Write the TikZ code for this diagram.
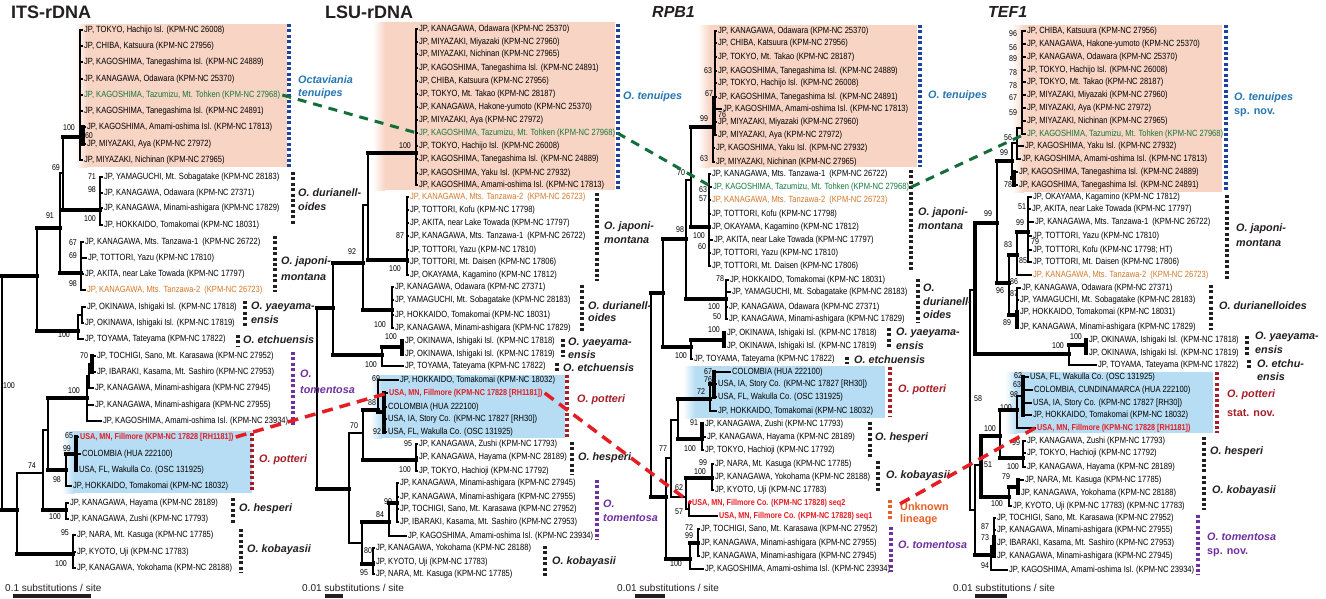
\documentclass[tikz,border=0pt]{standalone}
\usepackage{fontspec}
\setmainfont{Liberation Sans}
\newfontfamily\nf[FakeStretch=0.84]{Liberation Sans}
\definecolor{pinkbg}{RGB}{248,212,196}
\definecolor{bluebg}{RGB}{182,221,243}
\definecolor{tenblue}{RGB}{38,118,178}
\definecolor{barblue}{RGB}{28,68,158}
\definecolor{potred}{RGB}{165,30,40}
\definecolor{tompur}{RGB}{112,48,160}
\definecolor{unkor}{RGB}{232,96,40}
\definecolor{tanor}{RGB}{212,120,40}
\definecolor{grn}{RGB}{20,120,60}
\definecolor{dgrn}{RGB}{20,110,60}
\definecolor{redl}{RGB}{228,30,36}
\definecolor{blk}{RGB}{35,31,32}
\tikzset{
 lf/.style={anchor=west,inner sep=0pt,font=\nf\fontsize{9}{10}\selectfont},
 rl/.style={text=redl,font=\nf\bfseries\fontsize{8.6}{10}\selectfont},
 svs/.style={inner sep=0pt,font=\nf\fontsize{8.4}{9}\selectfont},
 cls/.style={anchor=west,inner sep=0pt,font=\bfseries\itshape\fontsize{10.8}{12}\selectfont,text=blk},
 cl2/.style={anchor=west,inner sep=0pt,font=\bfseries\fontsize{10.8}{12}\selectfont},
 ttl/.style={anchor=west,inner sep=0pt,font=\bfseries\fontsize{18}{20}\selectfont,text=blk},
 ttli/.style={anchor=west,inner sep=0pt,font=\bfseries\itshape\fontsize{16}{18}\selectfont,text=blk},
 scl/.style={anchor=west,inner sep=0pt,font=\fontsize{10}{12}\selectfont,text=blk},
 tl/.style={line width=1.1pt,line cap=rect,draw=black},
 tk/.style={line width=4.5pt,line cap=rect,draw=black},
 db/.style={line width=4.5pt,dash pattern=on 3pt off 2.4pt},
 gd/.style={draw=dgrn,line width=3pt,dash pattern=on 9pt off 7pt},
 rd/.style={draw=redl,line width=3.5pt,dash pattern=on 11pt off 7pt}
}
\newcount\svc
\newcount\clc
\newcommand\leaf[6]{\node[lf,#6] (#1) at (#3,#4) {#5};\draw[tl,line cap=butt] (#2,#4) -- ([xshift=-0.6pt]#1.west);}
\newcommand\brV[3]{\draw[tl] (#1,#2) -- (#1,#3);}
\newcommand\brVK[3]{\draw[tk] (#1,#2) -- (#1,#3);}
\newcommand\brH[3]{\draw[tl] (#1,#3) -- (#2,#3);}
\newcommand\brHK[3]{\draw[tk] (#1,#3) -- (#2,#3);}
\newcommand\sv[3]{\global\advance\svc by 1 \node[svs] (s\the\svc) at (#1,#2) {#3};}
\newcommand\cl[4]{\global\advance\clc by 1 \node[cls,#1] (c\the\clc) at (#2,#3) {#4};}
\newcommand\dbar[4]{\draw[db,#1] (#2,#3) -- (#2,#4);}
\newcommand\pbox[5]{\shade[left color=white,right color=#1] (#2,#3) rectangle (#2+12,#5);\fill[#1] (#2+12,#3) rectangle (#4,#5);}
\begin{document}
\begin{tikzpicture}[x=1pt,y=-1pt]
\useasboundingbox[fill=white] (0,0) rectangle (1326,598);
% boxes
\pbox{pinkbg}{75}{24}{287}{167}
\pbox{pinkbg}{373}{22}{615}{190}
\pbox{pinkbg}{698}{25}{917}{167}
\pbox{pinkbg}{1012}{25}{1222}{192}
\pbox{bluebg}{62}{431}{252}{493}
\pbox{bluebg}{370}{375}{565}{438}
\pbox{bluebg}{683}{366}{885}{418}
\pbox{bluebg}{1005}{372}{1213}{433}
% titles
\node[ttl] (tA) at (11,12) {ITS-rDNA};
\node[ttl] (tB) at (325,12) {LSU-rDNA};
\node[ttli] (tC) at (652,12) {RPB1};
\node[ttli] (tD) at (988,12) {TEF1};
%================ ITS tree
\brV{80}{30}{160}\brVK{83}{127}{144}\brHK{63}{80}{137}
\brV{100}{177}{225}\brHK{63}{100}{210}
\brV{63}{137}{210}\brH{60}{63}{173}
\brV{81}{242}{290}\brHK{60}{81}{273}
\brV{60}{173}{273}\brHK{37}{60}{228}
\brV{82}{307}{323}\brH{78}{82}{315}\brV{78}{315}{339}\brHK{37}{78}{331}
\brV{37}{228}{331}\brHK{2}{37}{276}
\brV{2}{276}{510}\brHK{2}{17}{510}
\brV{17}{473}{554}\brH{17}{43}{473}\brHK{17}{73}{554}
\brV{73}{535}{568}
\brV{43}{430}{510}\brH{43}{48}{430}\brHK{43}{66}{510}
\brV{66}{503}{519}
\brV{48}{398}{470}\brHK{48}{87}{398}\brHK{48}{66}{470}
\brVK{92}{356}{372}\brV{89}{364}{388}\brH{89}{92}{364}\brV{87}{376}{421}\brH{87}{89}{376}
\brVK{76}{437}{470}\brHK{66}{76}{454}\brV{66}{454}{486}
\leaf{i1}{80}{84}{30}{JP, TOKYO, Hachijo Isl. (KPM-NC 26008)}{}
\leaf{i2}{80}{84}{46}{JP, CHIBA, Katsuura (KPM-NC 27956)}{}
\leaf{i3}{80}{84}{62}{JP, KAGOSHIMA, Tanegashima Isl. (KPM-NC 24889)}{}
\leaf{i4}{80}{84}{79}{JP, KANAGAWA, Odawara (KPM-NC 25370)}{}
\leaf{i5}{80}{84}{95}{JP, KAGOSHIMA, Tazumizu, Mt. Tohken (KPM-NC 27968)}{text=grn}
\leaf{i6}{80}{84}{111}{JP, KAGOSHIMA, Tanegashima Isl. (KPM-NC 24891)}{}
\leaf{i7}{83}{87}{127}{JP, KAGOSHIMA, Amami-oshima Isl. (KPM-NC 17813)}{}
\leaf{i8}{83}{87}{144}{JP, MIYAZAKI, Aya (KPM-NC 27972)}{}
\leaf{i9}{80}{84}{160}{JP, MIYAZAKI, Nichinan (KPM-NC 27965)}{}
\leaf{i10}{100}{104}{177}{JP, YAMAGUCHI, Mt. Sobagatake (KPM-NC 28183)}{}
\leaf{i11}{100}{104}{193}{JP, KANAGAWA, Odawara (KPM-NC 27371)}{}
\leaf{i12}{100}{104}{208}{JP, KANAGAWA, Minami-ashigara (KPM-NC 17829)}{}
\leaf{i13}{100}{104}{225}{JP, HOKKAIDO, Tomakomai (KPM-NC 18031)}{}
\leaf{i14}{81}{85}{242}{JP, KANAGAWA, Mts. Tanzawa-1~ (KPM-NC 26722)}{}
\leaf{i15}{81}{88}{258}{JP, TOTTORI, Yazu (KPM-NC 17810)}{}
\leaf{i16}{81}{85}{274}{JP, AKITA, near Lake Towada (KPM-NC 17797)}{}
\leaf{i17}{81}{87}{290}{JP, KANAGAWA, Mts. Tanzawa-2~ (KPM-NC 26723)}{text=tanor}
\leaf{i18}{82}{87}{307}{JP, OKINAWA, Ishigaki Isl. (KPM-NC 17818)}{}
\leaf{i19}{82}{85}{323}{JP, OKINAWA, Ishigaki Isl. (KPM-NC 17819)}{}
\leaf{i20}{78}{85}{339}{JP, TOYAMA, Tateyama (KPM-NC 17822)}{}
\leaf{i21}{92}{97}{356}{JP, TOCHIGI, Sano, Mt. Karasawa (KPM-NC 27952)}{}
\leaf{i22}{92}{97}{372}{JP, IBARAKI, Kasama, Mt. Sashiro (KPM-NC 27953)}{}
\leaf{i23}{89}{95}{388}{JP, KANAGAWA, Minami-ashigara (KPM-NC 27945)}{}
\leaf{i24}{87}{95}{405}{JP, KANAGAWA, Minami-ashigara (KPM-NC 27955)}{}
\leaf{i25}{87}{103}{421}{JP, KAGOSHIMA, Amami-oshima Isl. (KPM-NC 23934)}{}
\leaf{i26}{76}{80}{437}{USA, MN, Fillmore (KPM-NC 17828 [RH1181])}{rl}
\leaf{i27}{76}{82}{454}{COLOMBIA (HUA 222100)}{}
\leaf{i28}{76}{79}{470}{USA, FL, Wakulla Co. (OSC 131925)}{}
\leaf{i29}{66}{73}{486}{JP, HOKKAIDO, Tomakomai (KPM-NC 18032)}{}
\leaf{i30}{66}{70}{503}{JP, KANAGAWA, Hayama (KPM-NC 28189)}{}
\leaf{i31}{66}{70}{519}{JP, KANAGAWA, Zushi (KPM-NC 17793)}{}
\leaf{i32}{73}{77}{535}{JP, NARA, Mt. Kasuga (KPM-NC 17785)}{}
\leaf{i33}{73}{77}{552}{JP, KYOTO, Uji (KPM-NC 17783)}{}
\leaf{i34}{73}{77}{568}{JP, KANAGAWA, Yokohama (KPM-NC 28188)}{}
\sv{69}{128}{100}\sv{89}{136}{60}\sv{56}{168}{69}\sv{92}{177}{71}\sv{92}{190}{98}
\sv{50}{216}{91}\sv{90}{219}{100}\sv{73}{243}{67}\sv{73}{256}{69}\sv{73}{284}{98}
\sv{64}{335}{100}\sv{84}{356}{70}\sv{74}{391}{100}\sv{9}{386}{100}\sv{69}{436}{65}
\sv{67}{449}{99}\sv{32}{466}{74}\sv{57}{480}{98}\sv{55}{517}{100}\sv{65}{533}{95}\sv{61}{564}{100}
%================ LSU tree
\brV{416}{29}{185}\brHK{368}{416}{153}
\brV{407}{197}{275}\brHK{368}{407}{260}
\brV{368}{153}{260}\brH{363}{368}{205}
\brV{392}{287}{328}\brHK{363}{392}{310}
\brV{363}{205}{310}\brHK{333}{363}{263}
\brVK{402}{341}{354}\brHK{382}{402}{347}\brV{382}{347}{366}\brHK{333}{382}{355}
\brV{333}{263}{355}\brHK{317}{333}{308}
\brV{317}{308}{489}\brHK{317}{349}{489}
\brV{349}{433}{543}\brH{349}{363}{433}\brH{349}{362}{543}
\brV{363}{410}{460}\brHK{363}{378}{410}\brHK{363}{416}{460}
\brV{378}{380}{412}\brHK{378}{384}{412}\brVK{384}{393}{432}
\brV{416}{444}{471}
\brV{362}{522}{564}\brHK{362}{389}{522}\brHK{362}{373}{564}
\brV{397}{483}{522}\brHK{389}{397}{503}\brV{389}{503}{536}
\brV{373}{548}{574}
\leaf{l1}{416}{419}{29}{JP, KANAGAWA, Odawara (KPM-NC 25370)}{}
\leaf{l2}{416}{419}{42}{JP, MIYAZAKI, Miyazaki (KPM-NC 27960)}{}
\leaf{l3}{416}{419}{54}{JP, MIYAZAKI, Nichinan (KPM-NC 27965)}{}
\leaf{l4}{416}{419}{68}{JP, KAGOSHIMA, Tanegashima Isl. (KPM-NC 24891)}{}
\leaf{l5}{416}{419}{81}{JP, CHIBA, Katsuura (KPM-NC 27956)}{}
\leaf{l6}{416}{419}{94}{JP, TOKYO, Mt. Takao (KPM-NC 28187)}{}
\leaf{l7}{416}{419}{107}{JP, KANAGAWA, Hakone-yumoto (KPM-NC 25370)}{}
\leaf{l8}{416}{419}{120}{JP, MIYAZAKI, Aya (KPM-NC 27972)}{}
\leaf{l9}{416}{419}{133}{JP, KAGOSHIMA, Tazumizu, Mt. Tohken (KPM-NC 27968)}{text=grn}
\leaf{l10}{416}{419}{146}{JP, TOKYO, Hachijo Isl. (KPM-NC 26008)}{}
\leaf{l11}{416}{419}{159}{JP, KAGOSHIMA, Tanegashima Isl. (KPM-NC 24889)}{}
\leaf{l12}{416}{419}{173}{JP, KAGOSHIMA, Yaku Isl. (KPM-NC 27932)}{}
\leaf{l13}{416}{419}{185}{JP, KAGOSHIMA, Amami-oshima Isl. (KPM-NC 17813)}{}
\leaf{l14}{407}{410}{197}{JP, KANAGAWA, Mts. Tanzawa-2~ (KPM-NC 26723)}{text=tanor}
\leaf{l15}{407}{410}{210}{JP, TOTTORI, Kofu (KPM-NC 17798)}{}
\leaf{l16}{407}{410}{223}{JP, AKITA, near Lake Towada (KPM-NC 17797)}{}
\leaf{l17}{407}{410}{236}{JP, KANAGAWA, Mts. Tanzawa-1~ (KPM-NC 26722)}{}
\leaf{l18}{407}{410}{250}{JP, TOTTORI, Yazu (KPM-NC 17810)}{}
\leaf{l19}{407}{410}{262}{JP, TOTTORI, Mt. Daisen (KPM-NC 17806)}{}
\leaf{l20}{407}{410}{275}{JP, OKAYAMA, Kagamino (KPM-NC 17812)}{}
\leaf{l21}{392}{395}{287}{JP, KANAGAWA, Odawara (KPM-NC 27371)}{}
\leaf{l22}{392}{395}{300}{JP, YAMAGUCHI, Mt. Sobagatake (KPM-NC 28183)}{}
\leaf{l23}{392}{395}{315}{JP, HOKKAIDO, Tomakomai (KPM-NC 18031)}{}
\leaf{l24}{392}{395}{328}{JP, KANAGAWA, Minami-ashigara (KPM-NC 17829)}{}
\leaf{l25}{402}{405}{341}{JP, OKINAWA, Ishigaki Isl. (KPM-NC 17818)}{}
\leaf{l26}{402}{405}{354}{JP, OKINAWA, Ishigaki Isl. (KPM-NC 17819)}{}
\leaf{l27}{382}{405}{366}{JP, TOYAMA, Tateyama (KPM-NC 17822)}{}
\leaf{l28}{378}{400}{380}{JP, HOKKAIDO, Tomakomai (KPM-NC 18032)}{}
\leaf{l29}{384}{389}{393}{USA, MN, Fillmore (KPM-NC 17828 [RH1181])}{rl}
\leaf{l30}{384}{388}{407}{COLOMBIA (HUA 222100)}{}
\leaf{l31}{384}{388}{419}{USA, IA, Story Co. (KPM-NC 17827 [RH30])}{}
\leaf{l32}{384}{388}{432}{USA, FL, Wakulla Co. (OSC 131925)}{}
\leaf{l33}{416}{419}{444}{JP, KANAGAWA, Zushi (KPM-NC 17793)}{}
\leaf{l34}{416}{419}{457}{JP, KANAGAWA, Hayama (KPM-NC 28189)}{}
\leaf{l35}{416}{419}{471}{JP, TOKYO, Hachioji (KPM-NC 17792)}{}
\leaf{l36}{397}{400}{483}{JP, KANAGAWA, Minami-ashigara (KPM-NC 27945)}{}
\leaf{l37}{397}{400}{497}{JP, KANAGAWA, Minami-ashigara (KPM-NC 27955)}{}
\leaf{l38}{397}{400}{509}{JP, TOCHIGI, Sano, Mt. Karasawa (KPM-NC 27952)}{}
\leaf{l39}{397}{400}{522}{JP, IBARAKI, Kasama, Mt. Sashiro (KPM-NC 27953)}{}
\leaf{l40}{389}{408}{536}{JP, KAGOSHIMA, Amami-oshima Isl. (KPM-NC 23934)}{}
\leaf{l41}{373}{376}{548}{JP, KANAGAWA, Yokohama (KPM-NC 28188)}{}
\leaf{l42}{373}{376}{562}{JP, KYOTO, Uji (KPM-NC 17783)}{}
\leaf{l43}{373}{376}{574}{JP, NARA, Mt. Kasuga (KPM-NC 17785)}{}
\sv{405}{146}{100}\sv{400}{236}{87}\sv{395}{269}{100}\sv{352}{252}{92}\sv{380}{325}{100}
\sv{391}{337}{100}\sv{371}{365}{100}\sv{376}{379}{69}\sv{372}{403}{88}\sv{377}{432}{92}
\sv{354}{426}{70}\sv{408}{444}{95}\sv{405}{470}{100}\sv{388}{502}{99}\sv{380}{515}{84}
\sv{368}{551}{80}\sv{364}{573}{95}
%================ RPB1 tree
\brV{715}{31}{135}\brV{713}{97}{162}\brHK{691}{713}{127}
\brV{709}{174}{266}\brHK{691}{709}{227}
\brV{691}{127}{227}\brH{686}{691}{180}
\brV{726}{280}{319}\brHK{686}{726}{299}
\brV{686}{180}{299}\brHK{663}{686}{239}
\brVK{724}{333}{346}\brHK{691}{724}{340}\brV{691}{340}{359}\brHK{663}{691}{347}
\brV{663}{239}{347}\brHK{651}{663}{293}
\brV{651}{293}{497}\brHK{651}{666}{497}
\brV{666}{458}{559}\brH{666}{671}{458}\brHK{666}{690}{559}
\brV{671}{420}{497}\brH{671}{678}{420}\brH{671}{686}{497}
\brV{678}{399}{439}\brHK{678}{710}{399}\brHK{678}{702}{439}
\brV{710}{384}{411}\brHK{710}{714}{384}\brVK{714}{372}{397}
\brV{702}{424}{450}\brVK{702}{424}{437}
\brV{686}{478}{509}\brHK{686}{712}{478}\brH{686}{689}{509}
\brV{712}{464}{490}
\brV{689}{503}{516}
\brV{698}{529}{556}\brHK{690}{698}{543}\brV{690}{543}{569}
\leaf{r1}{715}{718}{31}{JP, KANAGAWA, Odawara (KPM-NC 25370)}{}
\leaf{r2}{715}{718}{43}{JP, CHIBA, Katsuura (KPM-NC 27956)}{}
\leaf{r3}{715}{718}{57}{JP, TOKYO, Mt. Takao (KPM-NC 28187)}{}
\leaf{r4}{715}{718}{71}{JP, KAGOSHIMA, Tanegashima Isl. (KPM-NC 24889)}{}
\leaf{r5}{715}{718}{83}{JP, TOKYO, Hachijo Isl. (KPM-NC 26008)}{}
\leaf{r6}{715}{718}{97}{JP, KAGOSHIMA, Tanegashima Isl. (KPM-NC 24891)}{}
\leaf{r7}{715}{723}{109}{JP, KAGOSHIMA, Amami-oshima Isl. (KPM-NC 17813)}{}
\leaf{r8}{715}{718}{122}{JP, MIYAZAKI, Miyazaki (KPM-NC 27960)}{}
\leaf{r9}{715}{718}{135}{JP, MIYAZAKI, Aya (KPM-NC 27972)}{}
\leaf{r10}{713}{716}{148}{JP, KAGOSHIMA, Yaku Isl. (KPM-NC 27932)}{}
\leaf{r11}{713}{716}{162}{JP, MIYAZAKI, Nichinan (KPM-NC 27965)}{}
\leaf{r12}{709}{712}{174}{JP, KANAGAWA, Mts. Tanzawa-1~ (KPM-NC 26722)}{}
\leaf{r13}{709}{713}{187}{JP, KAGOSHIMA, Tazumizu, Mt. Tohken (KPM-NC 27968)}{text=grn}
\leaf{r14}{709}{712}{200}{JP, KANAGAWA, Mts. Tanzawa-2~ (KPM-NC 26723)}{text=tanor}
\leaf{r15}{709}{712}{214}{JP, TOTTORI, Kofu (KPM-NC 17798)}{}
\leaf{r16}{709}{712}{227}{JP, OKAYAMA, Kagamino (KPM-NC 17812)}{}
\leaf{r17}{709}{714}{240}{JP, AKITA, near Lake Towada (KPM-NC 17797)}{}
\leaf{r18}{709}{712}{253}{JP, TOTTORI, Yazu (KPM-NC 17810)}{}
\leaf{r19}{709}{712}{266}{JP, TOTTORI, Mt. Daisen (KPM-NC 17806)}{}
\leaf{r20}{726}{730}{280}{JP, HOKKAIDO, Tomakomai (KPM-NC 18031)}{}
\leaf{r21}{726}{732}{292}{JP, YAMAGUCHI, Mt. Sobagatake (KPM-NC 28183)}{}
\leaf{r22}{726}{729}{307}{JP, KANAGAWA, Odawara (KPM-NC 27371)}{}
\leaf{r23}{726}{729}{319}{JP, KANAGAWA, Minami-ashigara (KPM-NC 17829)}{}
\leaf{r24}{724}{727}{333}{JP, OKINAWA, Ishigaki Isl. (KPM-NC 17818)}{}
\leaf{r25}{724}{727}{346}{JP, OKINAWA, Ishigaki Isl. (KPM-NC 17819)}{}
\leaf{r26}{691}{694}{359}{JP, TOYAMA, Tateyama (KPM-NC 17822)}{}
\leaf{r27}{714}{732}{372}{COLOMBIA (HUA 222100)}{}
\leaf{r28}{714}{718}{384}{USA, IA, Story Co. (KPM-NC 17827 [RH30])}{}
\leaf{r29}{714}{718}{397}{USA, FL, Wakulla Co. (OSC 131925)}{}
\leaf{r30}{710}{718}{411}{JP, HOKKAIDO, Tomakomai (KPM-NC 18032)}{}
\leaf{r31}{702}{705}{424}{JP, KANAGAWA, Zushi (KPM-NC 17793)}{}
\leaf{r32}{702}{707}{437}{JP, KANAGAWA, Hayama (KPM-NC 28189)}{}
\leaf{r33}{702}{705}{450}{JP, TOKYO, Hachioji (KPM-NC 17792)}{}
\leaf{r34}{712}{715}{464}{JP, NARA, Mt. Kasuga (KPM-NC 17785)}{}
\leaf{r35}{712}{715}{477}{JP, KANAGAWA, Yokohama (KPM-NC 28188)}{}
\leaf{r36}{712}{715}{490}{JP, KYOTO, Uji (KPM-NC 17783)}{}
\leaf{r37}{689}{692}{503}{USA, MN, Fillmore Co. (KPM-NC 17828) seq2}{rl}
\leaf{r38}{689}{719}{516}{USA, MN, Fillmore Co. (KPM-NC 17828) seq1}{rl}
\leaf{r39}{698}{701}{529}{JP, TOCHIGI, Sano, Mt. Karasawa (KPM-NC 27952)}{}
\leaf{r40}{698}{701}{543}{JP, KANAGAWA, Minami-ashigara (KPM-NC 27955)}{}
\leaf{r41}{698}{701}{556}{JP, KANAGAWA, Minami-ashigara (KPM-NC 27945)}{}
\leaf{r42}{690}{705}{569}{JP, KAGOSHIMA, Amami-oshima Isl. (KPM-NC 23934)}{}
\sv{708}{71}{63}\sv{709}{94}{67}\sv{722}{115}{76}\sv{704}{119}{99}\sv{704}{159}{63}
\sv{681}{173}{70}\sv{703}{190}{63}\sv{703}{199}{57}\sv{680}{230}{98}\sv{699}{236}{100}
\sv{702}{247}{60}\sv{720}{279}{78}\sv{714}{307}{100}\sv{717}{317}{50}\sv{714}{330}{100}
\sv{681}{356}{100}\sv{708}{372}{67}\sv{708}{380}{76}\sv{701}{392}{72}\sv{694}{423}{91}
\sv{690}{449}{100}\sv{663}{449}{77}\sv{703}{463}{99}\sv{700}{472}{100}\sv{679}{488}{62}
\sv{679}{512}{57}\sv{689}{528}{72}\sv{689}{536}{99}\sv{676}{564}{100}
%================ TEF1 tree
\brV{1022}{31}{134}\brV{1017}{128}{159}\brH{1017}{1022}{128}
\brVK{1014}{172}{185}\brV{1012}{143}{178}\brH{1012}{1017}{143}\brHK{1012}{1014}{178}
\brHK{997}{1012}{161}
\brV{1028}{197}{262}\brHK{1017}{1028}{232}
\brV{1017}{232}{275}\brHK{1009}{1017}{255}
\brV{1017}{288}{327}\brVK{1017}{312}{327}\brHK{1009}{1017}{315}
\brV{1009}{255}{315}\brHK{997}{1009}{283}
\brV{997}{161}{283}\brHK{975}{997}{223}
\brVK{1086}{340}{353}\brHK{1069}{1086}{345}\brV{1069}{345}{365}\brHK{975}{1069}{354}
\brVK{975}{223}{354}\brH{970}{975}{290}
\brVK{1023}{377}{415}\brV{1017}{396}{428}\brH{1017}{1023}{396}\brHK{1000}{1017}{410}
\brV{1023}{441}{467}\brHK{1000}{1023}{458}
\brV{1000}{410}{458}\brHK{981}{1000}{436}
\brVK{1018}{480}{493}\brHK{1009}{1018}{487}\brV{1009}{487}{506}\brHK{981}{1009}{497}
\brVK{981}{436}{497}\brH{975}{981}{465}
\brV{994}{518}{556}\brVK{994}{537}{556}\brV{991}{546}{570}\brH{991}{994}{546}\brHK{975}{991}{555}
\brV{975}{465}{555}\brH{970}{975}{510}
\brV{970}{290}{510}
\leaf{t1}{1022}{1027}{31}{JP, CHIBA, Katsuura (KPM-NC 27956)}{}
\leaf{t2}{1022}{1027}{44}{JP, KANAGAWA, Hakone-yumoto (KPM-NC 25370)}{}
\leaf{t3}{1022}{1027}{57}{JP, KANAGAWA, Odawara (KPM-NC 25370)}{}
\leaf{t4}{1022}{1027}{70}{JP, TOKYO, Hachijo Isl. (KPM-NC 26008)}{}
\leaf{t5}{1022}{1027}{82}{JP, TOKYO, Mt. Takao (KPM-NC 28187)}{}
\leaf{t6}{1022}{1027}{95}{JP, MIYAZAKI, Miyazaki (KPM-NC 27960)}{}
\leaf{t7}{1022}{1027}{108}{JP, MIYAZAKI, Aya (KPM-NC 27972)}{}
\leaf{t8}{1022}{1027}{121}{JP, MIYAZAKI, Nichinan (KPM-NC 27965)}{}
\leaf{t9}{1022}{1027}{134}{JP, KAGOSHIMA, Tazumizu, Mt. Tohken (KPM-NC 27968)}{text=grn}
\leaf{t10}{1017}{1025}{146}{JP, KAGOSHIMA, Yaku Isl. (KPM-NC 27932)}{}
\leaf{t11}{1017}{1022}{159}{JP, KAGOSHIMA, Amami-oshima Isl. (KPM-NC 17813)}{}
\leaf{t12}{1014}{1019}{172}{JP, KAGOSHIMA, Tanegashima Isl. (KPM-NC 24889)}{}
\leaf{t13}{1014}{1019}{185}{JP, KAGOSHIMA, Tanegashima Isl. (KPM-NC 24891)}{}
\leaf{t14}{1028}{1033}{197}{JP, OKAYAMA, Kagamino (KPM-NC 17812)}{}
\leaf{t15}{1028}{1032}{209}{JP, AKITA, near Lake Towada (KPM-NC 17797)}{}
\leaf{t16}{1028}{1035}{222}{JP, KANAGAWA, Mts. Tanzawa-1~ (KPM-NC 26722)}{}
\leaf{t17}{1028}{1033}{236}{JP, TOTTORI, Yazu (KPM-NC 17810)}{}
\leaf{t18}{1028}{1033}{250}{JP, TOTTORI, Kofu (KPM-NC 17798; HT)}{}
\leaf{t19}{1028}{1033}{262}{JP, TOTTORI, Mt. Daisen (KPM-NC 17806)}{}
\leaf{t20}{1017}{1033}{275}{JP, KANAGAWA, Mts. Tanzawa-2~ (KPM-NC 26723)}{text=tanor}
\leaf{t21}{1017}{1022}{288}{JP, KANAGAWA, Odawara (KPM-NC 27371)}{}
\leaf{t22}{1017}{1020}{300}{JP, YAMAGUCHI, Mt. Sobagatake (KPM-NC 28183)}{}
\leaf{t23}{1017}{1020}{312}{JP, HOKKAIDO, Tomakomai (KPM-NC 18031)}{}
\leaf{t24}{1017}{1020}{327}{JP, KANAGAWA, Minami-ashigara (KPM-NC 17829)}{}
\leaf{t25}{1086}{1089}{340}{JP, OKINAWA, Ishigaki Isl. (KPM-NC 17818)}{}
\leaf{t26}{1086}{1089}{353}{JP, OKINAWA, Ishigaki Isl. (KPM-NC 17819)}{}
\leaf{t27}{1069}{1098}{365}{JP, TOYAMA, Tateyama (KPM-NC 17822)}{}
\leaf{t28}{1023}{1030}{377}{USA, FL, Wakulla Co. (OSC 131925)}{}
\leaf{t29}{1023}{1034}{390}{COLOMBIA, CUNDINAMARCA (HUA 222100)}{}
\leaf{t30}{1023}{1033}{403}{USA, IA, Story Co. (KPM-NC 17827 [RH30])}{}
\leaf{t31}{1023}{1033}{415}{JP, HOKKAIDO, Tomakomai (KPM-NC 18032)}{}
\leaf{t32}{1017}{1037}{428}{USA, MN, Fillmore (KPM-NC 17828 [RH1181])}{rl}
\leaf{t33}{1023}{1027}{441}{JP, KANAGAWA, Zushi (KPM-NC 17793)}{}
\leaf{t34}{1023}{1027}{453}{JP, TOKYO, Hachioji (KPM-NC 17792)}{}
\leaf{t35}{1023}{1027}{467}{JP, KANAGAWA, Hayama (KPM-NC 28189)}{}
\leaf{t36}{1018}{1025}{480}{JP, NARA, Mt. Kasuga (KPM-NC 17785)}{}
\leaf{t37}{1018}{1021}{493}{JP, KANAGAWA, Yokohama (KPM-NC 28188)}{}
\leaf{t38}{1009}{1013}{506}{JP, KYOTO, Uji (KPM-NC 17783) (KPM-NC 17783)}{}
\leaf{t39}{994}{997}{518}{JP, TOCHIGI, Sano, Mt. Karasawa (KPM-NC 27952)}{}
\leaf{t40}{994}{997}{530}{JP, KANAGAWA, Minami-ashigara (KPM-NC 27955)}{}
\leaf{t41}{994}{997}{543}{JP, IBARAKI, Kasama, Mt. Sashiro (KPM-NC 27953)}{}
\leaf{t42}{994}{997}{556}{JP, KANAGAWA, Minami-ashigara (KPM-NC 27945)}{}
\leaf{t43}{991}{1009}{570}{JP, KAGOSHIMA, Amami-oshima Isl. (KPM-NC 23934)}{}
\sv{1013}{34}{96}\sv{1013}{48}{56}\sv{1013}{59}{89}\sv{1013}{73}{78}\sv{1013}{86}{78}
\sv{1013}{98}{67}\sv{1013}{113}{59}\sv{1008}{138}{56}\sv{1004}{153}{99}\sv{1008}{185}{78}
\sv{1022}{207}{51}\sv{1020}{223}{99}\sv{988}{214}{99}\sv{1035}{242}{79}\sv{1008}{245}{83}
\sv{1023}{261}{85}\sv{1014}{282}{86}\sv{1000}{291}{96}\sv{1014}{294}{87}\sv{1007}{323}{89}
\sv{1076}{337}{100}\sv{1058}{346}{100}\sv{1018}{376}{62}\sv{1017}{385}{63}\sv{1014}{395}{98}
\sv{978}{399}{58}\sv{1006}{408}{100}\sv{990}{429}{100}\sv{1016}{443}{99}\sv{988}{465}{51}
\sv{1013}{467}{100}\sv{1006}{477}{79}\sv{997}{504}{100}\sv{985}{527}{87}\sv{985}{538}{73}\sv{985}{566}{94}
%================ bars
\dbar{barblue}{289}{24}{167}\dbar{blk}{293}{172}{225}\dbar{blk}{275}{236}{292}
\dbar{blk}{245}{301}{327}\dbar{blk}{238}{335}{346}\dbar{tompur}{293}{352}{427}
\dbar{potred}{252}{433}{492}\dbar{blk}{233}{498}{524}\dbar{blk}{241}{529}{573}
\dbar{barblue}{618}{24}{190}\dbar{blk}{597}{193}{281}\dbar{blk}{582}{285}{333}
\dbar{blk}{563}{339}{357}\dbar{blk}{557}{363}{371}\dbar{potred}{567}{375}{438}
\dbar{blk}{572}{442}{475}\dbar{tompur}{597}{480}{540}\dbar{blk}{545}{546}{578}
\dbar{barblue}{920}{25}{167}\dbar{blk}{911}{170}{270}\dbar{blk}{918}{279}{323}
\dbar{blk}{889}{328}{348}\dbar{blk}{847}{357}{364}\dbar{potred}{890}{367}{417}
\dbar{blk}{870}{422}{457}\dbar{blk}{878}{461}{493}\dbar{unkor}{890}{500}{520}
\dbar{tompur}{891}{527}{572}
\dbar{barblue}{1226}{25}{192}\dbar{blk}{1227}{195}{280}\dbar{blk}{1211}{285}{330}
\dbar{blk}{1247}{336}{355}\dbar{blk}{1249}{360}{368}\dbar{potred}{1217}{372}{433}
\dbar{blk}{1204}{437}{472}\dbar{blk}{1204}{476}{510}\dbar{tompur}{1198}{515}{575}
%================ clade labels
\cl{text=tenblue}{298}{80}{Octaviania}\cl{text=tenblue}{298}{94}{tenuipes}
\cl{}{298}{193}{O. durianell-}\cl{}{298}{207}{oides}
\cl{}{281}{262}{O. japoni-}\cl{}{281}{277}{montana}
\cl{}{251}{307}{O. yaeyama-}\cl{}{251}{320}{ensis}
\cl{}{243}{340}{O. etchuensis}
\cl{text=tompur}{300}{374}{O.}\cl{text=tompur}{300}{390}{tomentosa}
\cl{text=potred}{259}{460}{O. potteri}
\cl{}{239}{509}{O. hesperi}\cl{}{247}{550}{O. kobayasii}
\cl{text=tenblue}{623}{97}{O. tenuipes}
\cl{}{604}{227}{O. japoni-}\cl{}{604}{240}{montana}
\cl{}{588}{306}{O. durianell-}\cl{}{588}{318}{oides}
\cl{}{568}{343}{O. yaeyama-}\cl{}{568}{355}{ensis}
\cl{}{563}{368}{O. etchuensis}
\cl{text=potred}{577}{400}{O. potteri}\cl{}{578}{458}{O. hesperi}
\cl{text=tompur}{603}{504}{O.}\cl{text=tompur}{603}{518}{tomentosa}
\cl{}{552}{562}{O. kobayasii}
\cl{text=tenblue}{928}{96}{O. tenuipes}
\cl{}{918}{213}{O. japoni-}\cl{}{918}{226}{montana}
\cl{}{923}{288}{O.}\cl{}{923}{302}{durianell-}\cl{}{923}{315}{oides}
\cl{}{896}{333}{O. yaeyama-}\cl{}{896}{346}{ensis}
\cl{}{854}{360}{O. etchuensis}
\cl{text=potred}{898}{390}{O. potteri}\cl{}{875}{438}{O. hesperi}
\cl{}{886}{476}{O. kobayasii}
\node[cl2,text=unkor] (unk) at (900,507) {Unknown};
\node[cl2,text=unkor] (unk2) at (900,520) {lineage};
\cl{text=tompur}{898}{545}{O. tomentosa}
\cl{text=tenblue}{1234}{98}{O. tenuipes}
\node[cl2,text=tenblue] (spn1) at (1234,113) {sp. nov.};
\cl{}{1236}{229}{O. japoni-}\cl{}{1236}{243}{montana}
\cl{}{1219}{306}{O. durianelloides}
\cl{}{1255}{337}{O. yaeyama-}\cl{}{1255}{350}{ensis}
\cl{}{1257}{364}{O. etchu-}\cl{}{1257}{377}{ensis}
\cl{text=potred}{1227}{395}{O. potteri}
\node[cl2,text=potred] (stn) at (1227,413) {stat. nov.};
\cl{}{1210}{452}{O. hesperi}\cl{}{1212}{491}{O. kobayasii}
\cl{text=tompur}{1207}{537}{O. tomentosa}
\node[cl2,text=tompur] (spn2) at (1207,553) {sp. nov.};
%================ scale bars
\node[scl] (sc1) at (5,588) {0.1 substitutions / site};
\draw[line width=4pt,blk] (13,596) -- (91,596);
\node[scl] (sc2) at (302,588) {0.01 substitutions / site};
\draw[line width=4pt,blk] (325,596) -- (343,596);
\node[scl] (sc3) at (617,588) {0.01 substitutions / site};
\draw[line width=4pt,blk] (635,596) -- (665,596);
\node[scl] (sc4) at (953,588) {0.01 substitutions / site};
\draw[line width=4pt,blk] (975,596) -- (1007,596);
%================ dashed connectors
\draw[gd] ([xshift=2pt]i5.east) -- ([xshift=-2pt]l9.west);
\draw[gd] ([xshift=2pt]l9.east) -- ([xshift=-1pt]r13.west);
\draw[gd] ([xshift=2pt]r13.east) -- ([xshift=-2pt]t9.west);
\draw[rd] ([xshift=2pt]i26.east) -- ([xshift=-1pt]l29.west);
\draw[rd] ([xshift=2pt]l29.east) -- ([xshift=-1pt]r37.west);
\draw[rd] ([yshift=-1pt]unk.north west) -- ([xshift=-2pt]t32.west);
\end{tikzpicture}
\end{document}
